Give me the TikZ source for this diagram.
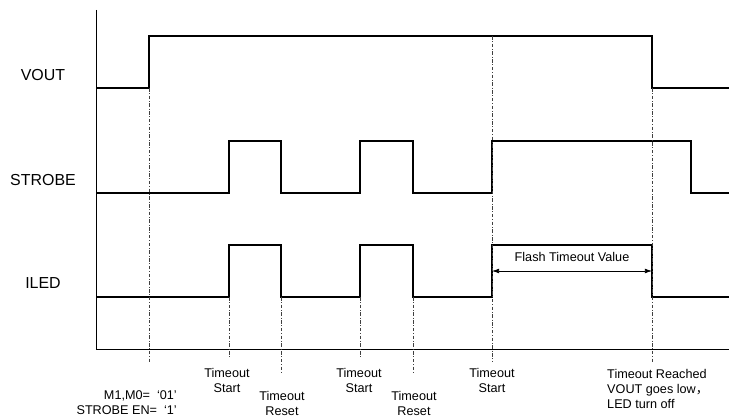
\documentclass[tikz,border=0pt]{standalone}
\usepackage{fontspec}
\setmainfont{Liberation Sans}
\newfontfamily\cjk{Noto Sans CJK SC}
\usetikzlibrary{arrows.meta,positioning}
\tikzset{
  signal/.style={line width=1.7pt, black, line join=miter},
  axis/.style={line width=0.8pt, black},
  guide/.style={line width=0.5pt, black!75, dash pattern=on 3pt off 1.5pt on 0.6pt off 1.5pt},
  span/.style={{Latex[length=6pt,width=4pt]}-{Latex[length=6pt,width=4pt]}, line width=0.6pt},
  siglabel/.style={font=\fontsize{13.6}{16}\selectfont},
  note/.style={font=\fontsize{10.8}{12.8}\selectfont, align=center, inner sep=0pt}
}

\begin{document}
\begin{tikzpicture}[x=0.03cm,y=0.03cm]
  \useasboundingbox (0,0) rectangle (729,417);
  % axes
  \draw[axis] (96,407) -- (96,68) -- (729,68);
  % waveforms
  \draw[signal] (96,329) -| (149,381) -| (652,329) -- (729,329);
  \draw[signal] (96,224) -| (229,276) -| (281,224) -| (360,276) -| (413,224) -| (492,276) -| (691,224) -- (729,224);
  \draw[signal] (96,120) -| (229,172) -| (281,120) -| (360,172) -| (413,120) -| (492,172) -| (652,120) -- (729,120);
  \node[siglabel] (vout) at (43,342) {VOUT};
  \node[siglabel] (strobe) at (43,237) {STROBE};
  \node[siglabel] (iled) at (43,134) {ILED};
  % event markers
  \foreach \x/\top/\bot in {149/329/55,229/120/60,281/120/44,360/120/60,413/120/44,492/381/55,652/329/55}{
    \draw[guide] (\x,\top)--(\x,\bot);
  }
  \coordinate (tstart) at (492,146);
  \coordinate (treach) at (652,146);
  \draw[span] (tstart) -- (treach);
  \node[note] (flash) at (572,160) {Flash Timeout Value};
  \foreach \x/\y/\lab in {227/36.5/Start,282/13.5/Reset,359/36.5/Start,414/13.5/Reset,492/36.5/Start}{
    \node[note] (ev\x) at (\x,\y) {Timeout\\\lab};
  }
  \node[note, anchor=west, align=left] (reached) at (607,28) {Timeout Reached\\VOUT goes low{\cjk ，}\\LED turn off};
  \node[note, anchor=east, align=right] (mode) at (177,14.5) {M1,M0=\ \ ‘01’\\STROBE EN=\ \ ‘1’};
\end{tikzpicture}
\end{document}
